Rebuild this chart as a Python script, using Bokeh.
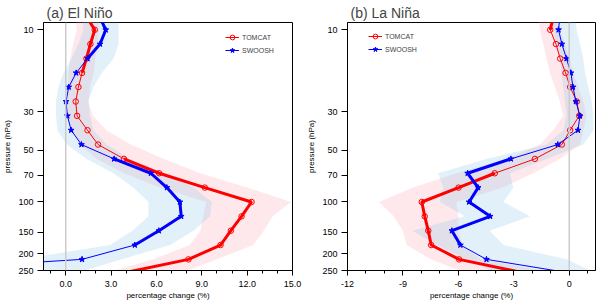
from bokeh.plotting import figure
from bokeh.layouts import row
from bokeh.models import (Range1d, FixedTicker, PrintfTickFormatter, Span, Legend, LegendItem)
from bokeh.embed import file_html
from bokeh.resources import INLINE
import numpy as np

# pressure levels (hPa), the first and last lie just outside the plotted range
levels = [8.25, 10.0, 12.1, 14.7, 17.8, 21.5, 26.1, 31.6, 38.3, 46.4, 56.2,
          68.1, 82.5, 100.0, 121.2, 146.8, 177.8, 215.4, 261.0]

# ---------- (a) El Nino ----------
nino_tomcat = [1.32, 1.92, 1.63, 1.37, 1.08, 0.84, 0.66, 0.75, 1.44, 2.14, 3.85,
               6.18, 9.2, 12.29, 11.63, 10.92, 10.24, 8.12, 3.58]
nino_tomcat_lo = [0.6, 0.73, 0.5, 0.3, 0.18, 0.15, 0.07, 0.07, 0.4, 0.95, 2.05,
                  3.9, 6.2, 9.3, 9.1, 8.9, 8.2, 5.8, 2.5]
nino_tomcat_hi = [2.2, 2.2, 2.1, 1.95, 1.85, 1.6, 1.5, 1.8, 2.7, 4.3, 6.5,
                  8.9, 12.0, 14.9, 13.7, 13.1, 12.4, 10.0, 7.5]
nino_tomcat_sig = [1, 1, 1, 1, 1, 0, 0, 0, 0, 0, 1, 1, 1, 1, 1, 1, 1, 1, 1]

nino_swoosh = [2.2, 2.65, 2.27, 1.44, 0.69, 0.2, 0.02, 0.11, 0.36, 1.04, 3.2,
               5.63, 6.69, 7.55, 7.64, 6.16, 4.57, 1.08, -14.0]
nino_swoosh_lo = [1.1, 1.17, 0.84, 0.4, -0.15, -0.48, -0.64, -0.64, -0.55, 0.07, 1.39,
                  3.16, 4.48, 5.47, 5.47, 4.42, 2.94, -3.0, -12.0]
nino_swoosh_hi = [3.5, 3.49, 3.49, 3.16, 2.38, 1.83, 1.5, 1.61, 1.83, 2.72, 4.26,
                  6.47, 8.45, 9.66, 9.55, 8.45, 6.9, 3.7, 0.5]
nino_swoosh_sig = [1, 1, 1, 1, 0, 0, 0, 0, 0, 0, 1, 1, 1, 1, 1, 1, 1, 0, 0]

# ---------- (b) La Nina ----------
nina_tomcat = [-0.84, -1.03, -0.72, -0.49, -0.2, 0.05, 0.41, 0.54, 0.05, -0.4, -1.86,
               -4.03, -5.99, -7.98, -7.82, -7.63, -7.47, -5.96, -2.26]
nina_tomcat_lo = [-1.7, -1.59, -1.41, -1.23, -1.05, -0.78, -0.51, -0.33, -0.87, -1.59, -3.39,
                  -6.1, -8.45, -10.3, -9.5, -9.0, -8.8, -7.5, -5.5]
nina_tomcat_hi = [-0.6, -0.51, -0.24, 0.03, 0.21, 0.49, 0.76, 0.94, 0.76, 0.58, -0.51,
                  -1.95, -3.6, -6.1, -6.0, -6.0, -5.8, -4.8, -0.5]
nina_tomcat_sig = [1, 1, 0, 0, 0, 0, 0, 0, 0, 0, 0, 1, 1, 1, 1, 1, 1, 1, 1]

nina_swoosh = [-0.5, -0.58, -0.4, -0.15, 0.09, 0.2, 0.36, 0.58, 0.47, -0.62, -3.16,
               -5.5, -4.93, -5.42, -4.28, -6.35, -5.89, -4.48, 0.27]
nina_swoosh_lo = [-0.95, -0.87, -0.69, -0.51, -0.42, -0.33, -0.24, -0.15, -0.33, -1.23, -4.48,
                  -7.09, -6.82, -7.0, -5.65, -8.5, -7.18, -5.56, -3.9]
nina_swoosh_hi = [0.3, 0.4, 0.58, 0.76, 0.85, 1.03, 1.21, 1.3, 1.3, 0.76, -1.23,
                  -3.21, -3.03, -3.57, -2.13, -4.3, -3.57, -0.15, 1.5]
nina_swoosh_sig = [0, 0, 0, 0, 0, 0, 0, 0, 0, 0, 1, 1, 1, 1, 1, 1, 1, 0, 0]

y_ticks = [10, 30, 50, 70, 100, 150, 200, 250]
nino_xticks = [0, 3, 6, 9, 12, 15]
nina_xticks = [-12, -9, -6, -3, 0]

RED = "#ff0000"
BLUE = "#0000ff"
FONT = "Liberation Sans"


def thick(vals, sig):
    return np.array([v if s else np.nan for v, s in zip(vals, sig)], dtype=float)


def make_panel(title, xr, xticks, xminor, xfmt, series, fw, right_border, legend_loc):
    p = figure(frame_width=fw, frame_height=248, x_range=Range1d(*xr),
               y_range=Range1d(250, 9.07), y_axis_type="log",
               output_backend="svg", toolbar_location=None,
               min_border_left=42, min_border_right=right_border,
               min_border_top=22, min_border_bottom=37)
    p.title.text = title
    p.title.text_font = FONT
    p.title.text_font_size = "14px"
    p.title.text_font_style = "normal"
    p.title.standoff = 4
    p.title.offset = 3
    p.outline_line_color = "black"
    p.outline_line_width = 1
    p.grid.visible = False
    p.background_fill_color = "white"

    p.add_layout(Span(location=0, dimension="height", line_color="#cccccc", line_width=1.5))

    y = np.array(levels, dtype=float)
    items = []
    for name, vals, lo, hi, sig, color, band, bandalpha, marker in series:
        p.harea(x1=np.array(lo, dtype=float), x2=np.array(hi, dtype=float), y=y,
                fill_color=band, fill_alpha=bandalpha)
    for name, vals, lo, hi, sig, color, band, bandalpha, marker in series:
        v = np.array(vals, dtype=float)
        thin = p.line(v, y, line_color=color, line_width=1)
        p.line(thick(vals, sig), y, line_color=color, line_width=3)
        if marker == "circle":
            m = p.scatter(v, y, marker="circle", size=5.5, fill_color=None,
                          line_color=color, line_width=1)
        else:
            m = p.scatter(v, y, marker="star", size=6, fill_color=color,
                          line_color=color, line_width=1)
        items.append(LegendItem(label=name, renderers=[thin, m]))

    leg = Legend(items=items, location=legend_loc, padding=0, margin=0, spacing=1,
                 glyph_width=14, glyph_height=12, label_height=12, label_standoff=3,
                 label_text_font=FONT, label_text_font_size="7px",
                 border_line_color=None, background_fill_alpha=0)
    p.add_layout(leg, "center")

    p.xaxis.ticker = FixedTicker(ticks=xticks, minor_ticks=xminor)
    p.xaxis.formatter = PrintfTickFormatter(format=xfmt)
    p.yaxis.ticker = FixedTicker(ticks=y_ticks, minor_ticks=[])
    p.yaxis.major_label_overrides = {t: str(t) for t in y_ticks}
    for ax in (p.xaxis[0], p.yaxis[0]):
        ax.major_tick_out = 5
        ax.major_tick_in = 0
        ax.minor_tick_out = 3
        ax.minor_tick_in = 0
        ax.major_label_text_font = FONT
        ax.major_label_text_font_size = "9px"
        ax.major_label_text_color = "black"
        ax.axis_label_text_font = FONT
        ax.axis_label_text_font_size = "8px"
        ax.axis_label_text_font_style = "normal"
        ax.axis_label_text_color = "black"
        ax.axis_line_color = "black"
        ax.major_tick_line_color = "black"
        ax.minor_tick_line_color = "black"
    p.xaxis.axis_label = "percentage change (%)"
    p.yaxis.axis_label = "pressure (hPa)"
    p.xaxis.major_label_standoff = 5
    p.xaxis.axis_label_standoff = 1
    p.yaxis.major_tick_out = 6
    p.yaxis.major_label_standoff = 4
    p.yaxis.axis_label_standoff = 3
    return p


p1 = make_panel("(a) El Niño", (-1.47, 15.0), nino_xticks, list(range(-1, 16)), "%.1f",
                [("TOMCAT", nino_tomcat, nino_tomcat_lo, nino_tomcat_hi, nino_tomcat_sig,
                  RED, "#ffb6c1", 0.32, "circle"),
                 ("SWOOSH", nino_swoosh, nino_swoosh_lo, nino_swoosh_hi, nino_swoosh_sig,
                  BLUE, "#87c3e6", 0.25, "star")],
                249, 12, (182, 214))
p2 = make_panel("(b) La Niña", (-12.0, 1.42), nina_xticks, list(range(-12, 2)), "%d",
                [("TOMCAT", nina_tomcat, nina_tomcat_lo, nina_tomcat_hi, nina_tomcat_sig,
                  RED, "#ffb6c1", 0.32, "circle"),
                 ("SWOOSH", nina_swoosh, nina_swoosh_lo, nina_swoosh_hi, nina_swoosh_sig,
                  BLUE, "#87c3e6", 0.25, "star")],
                248, 5, (21, 215))

layout = row(p1, p2)
open("out.html", "w").write(file_html(layout, INLINE))
